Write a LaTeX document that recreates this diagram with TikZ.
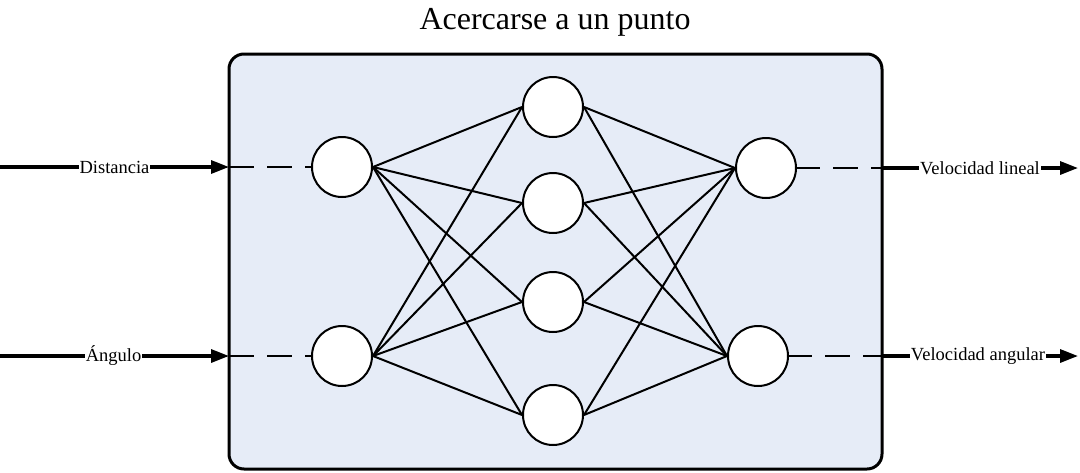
\documentclass[tikz,border=0pt]{standalone}
\usepackage{fontspec}
\setmainfont{Liberation Serif}
\usetikzlibrary{arrows.meta}
\definecolor{boxfill}{RGB}{230,236,247}
\tikzset{
  neuron/.style={circle,draw=black,fill=white,line width=2pt,minimum size=60pt,inner sep=0pt},
  link/.style={line width=2pt},
  io/.style={line width=3.2pt,-{Triangle[length=18pt,width=13pt]}},
  iolabel/.style={fill=white,inner sep=1pt,font=\fontsize{18.5}{20}\selectfont},
  dash1/.style={line width=2pt,dash pattern=on 25pt off 13pt}
}
\begin{document}
\begin{tikzpicture}[x=1pt,y=-1pt]
\useasboundingbox (0,0) rectangle (1080,472);
\node[font=\fontsize{32}{36}\selectfont] (title) at (555,22) {Acercarse a un punto};
\draw[line width=3pt,fill=boxfill,rounded corners=15pt] (229,54) rectangle (882,469);
\coordinate (bl1) at (229,167);
\coordinate (bl2) at (229,356);
\coordinate (br1) at (882,168);
\coordinate (br2) at (882,356);
\coordinate (s1) at (0,167);
\coordinate (s2) at (0,356);
\coordinate (e1) at (1078,168);
\coordinate (e2) at (1078,356);
\node[neuron] (i1) at (342,167) {};
\node[neuron] (i2) at (342,356) {};
\node[neuron] (h1) at (553,107) {};
\node[neuron] (h2) at (553,203) {};
\node[neuron] (h3) at (553,302) {};
\node[neuron] (h4) at (553,415) {};
\node[neuron] (o1) at (766,168) {};
\node[neuron] (o2) at (758,356) {};
\foreach \i in {i1,i2}{\foreach \h in {h1,h2,h3,h4}{\draw[link] (\i.east) -- (\h.west);}}
\foreach \h in {h1,h2,h3,h4}{\foreach \o in {o1,o2}{\draw[link] (\h.east) -- (\o.west);}}
\draw[dash1] (bl1) -- (i1.west);
\draw[dash1] (bl2) -- (i2.west);
\draw[dash1,dash phase=2pt] (o1.east) -- (br1);
\draw[dash1,dash phase=2pt] (o2.east) -- (br2);
\draw[io] (s1) -- node[iolabel] {Distancia} (bl1);
\draw[io] (s2) -- node[iolabel,xshift=-1pt] {Ángulo} (bl2);
\draw[io] (br1) -- node[iolabel] {Velocidad lineal} (e1);
\draw[io] (br2) -- node[iolabel,xshift=-2pt] {Velocidad angular} (e2);
\end{tikzpicture}
\end{document}
